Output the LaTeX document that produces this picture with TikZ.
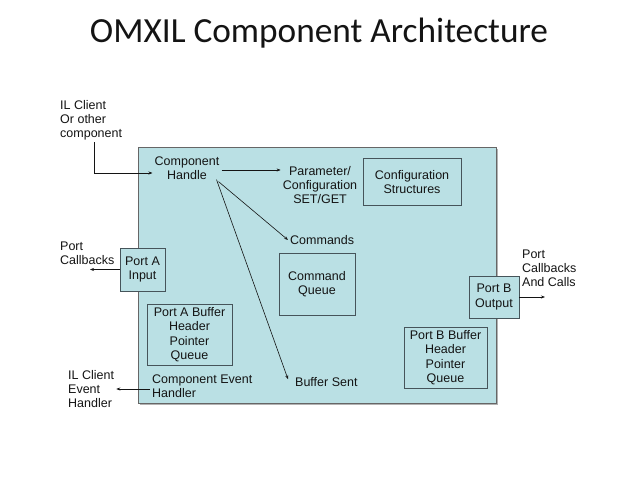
\documentclass[tikz,border=0pt]{standalone}
\usepackage{fontspec}
\setmainfont{Liberation Sans}
\newfontfamily\titlefont{Carlito}
\usetikzlibrary{arrows.meta}
\definecolor{panel}{RGB}{186,224,228}
\definecolor{edge}{RGB}{70,84,90}
\definecolor{ink}{RGB}{20,20,20}
\tikzset{
  lbl/.style={font=\fontsize{12.5}{14}\selectfont, text=ink, inner sep=2pt, align=center},
  lbll/.style={lbl, align=left},
  boxed/.style={draw=edge, line width=0.8pt, fill=panel, font=\fontsize{12.5}{14.5}\selectfont, text=ink, align=center, inner sep=0pt},
  arr/.style={draw=ink, line width=0.6pt, -{Stealth[length=4pt,width=3pt]}},
}
\begin{document}
\begin{tikzpicture}[x=1pt,y=-1pt]
\useasboundingbox[fill=white] (0,0) rectangle (638,479);
% title
\node[font=\titlefont\fontsize{35.3}{40}\selectfont, text=ink] (title) at (319,33) {OMXIL Component Architecture};
% main panel
\fill[gray!60] (139.5,148.5) rectangle (497.5,404.5);
\node[boxed, minimum width=358pt, minimum height=256pt, anchor=north west, line width=0.6pt, draw=gray!80!black] (panel) at (138,147) {};
% texts and boxes
\node[lbll, anchor=west] (ilc) at (58,120) {IL Client\\Or other\\component};
\node[lbl] (ch) at (187,168) {Component\\Handle};
\node[lbl] (param) at (320,185) {Parameter/\\Configuration\\SET/GET};
\node[boxed, minimum width=98pt, minimum height=47pt] (cfg) at (412,182) {Configuration\\Structures};
\node[lbl, anchor=west] (cmds) at (288,240) {Commands};
\node[boxed, minimum width=76pt, minimum height=62pt] (cq) at (317,284) {Command\\Queue};
\node[boxed, minimum width=45pt, minimum height=43pt] (pa) at (142.5,269.5) {Port A\\Input};
\node[lbll, anchor=west] (pacb) at (58,253) {Port\\Callbacks};
\coordinate (paend) at (90,269.5);
\node[boxed, minimum width=85pt, minimum height=61pt] (pab) at (189.5,334.5) {Port A Buffer\\Header\\Pointer\\Queue};
\node[lbll, anchor=west] (ceh) at (150,386) {Component Event\\Handler};
\node[lbll, anchor=west] (ilceh) at (66,389) {IL Client\\Event\\Handler};
\node[lbl, anchor=west] (bs) at (293,382) {Buffer Sent};
\node[boxed, minimum width=50pt, minimum height=42pt] (pb) at (494,297) {Port B\\Output};
\node[lbll, anchor=west] (pbcb) at (520,268) {Port\\Callbacks\\And Calls};
\coordinate (pbend) at (545,297);
\node[boxed, minimum width=83pt, minimum height=61pt] (pbb) at (445.5,357.5) {Port B Buffer\\Header\\Pointer\\Queue};
% connectors
\draw[arr] (ilc.south west -| 94,0) |- ([yshift=-5pt]ch.west);
\draw[arr] ([yshift=-2pt]ch.east) -- (param.north west |- 0,170);
\draw[arr] ([xshift=-3pt]ch.south east) -- (cmds.west);
\draw[arr] ([xshift=-5pt,yshift=2pt]ch.south east) -- ([xshift=-5pt,yshift=-4pt]bs.north west);
\draw[arr] (pa.west) -- (paend);
\draw[arr] ([yshift=-3pt]ceh.west) -- ([yshift=-3pt]ceh.west -| ilceh.east);
\draw[arr] (pb.east) -- (pbend);
\end{tikzpicture}
\end{document}
